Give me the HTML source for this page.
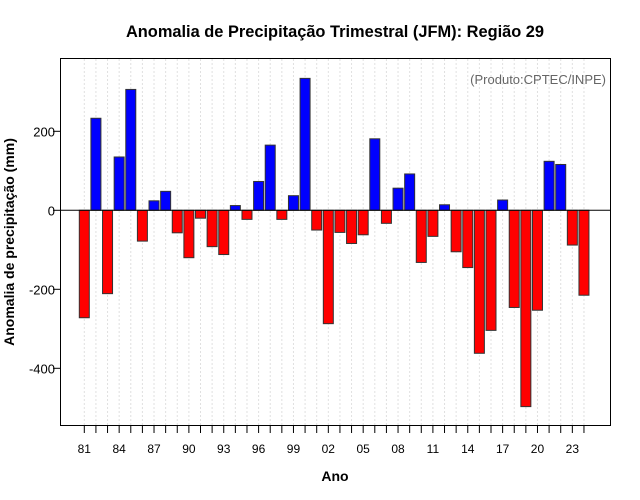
<!DOCTYPE html>
<html><head><meta charset="utf-8"><style>
body{margin:0;background:#fff;}
svg{display:block;font-family:"Liberation Sans",sans-serif;}
</style></head><body>
<svg id="chart" width="640" height="500" viewBox="0 0 640 500">
<rect x="0" y="0" width="640" height="500" fill="#fff"/>
<text x="335" y="37" text-anchor="middle" font-size="16.4" font-weight="bold">Anomalia de Precipitação Trimestral (JFM): Região 29</text>
<g id="grid"></g>
<g id="bars"></g>
<line id="zero" x1="60" x2="610" stroke="#000" stroke-width="1"/>
<rect x="60.5" y="58.5" width="550" height="367" fill="none" stroke="#000"/>
<g id="xaxis"></g>
<g id="yaxis"></g>
<text x="606" y="84" text-anchor="end" font-size="13" fill="#666">(Produto:CPTEC/INPE)</text>
<text x="335" y="481" text-anchor="middle" font-size="14" font-weight="bold">Ano</text>
<text transform="translate(14,242) rotate(-90)" text-anchor="middle" font-size="14" font-weight="bold">Anomalia de precipitação (mm)</text>
</svg>
<script>
const years = [1981,1982,1983,1984,1985,1986,1987,1988,1989,1990,1991,1992,1993,1994,1995,1996,1997,1998,1999,2000,2001,2002,2003,2004,2005,2006,2007,2008,2009,2010,2011,2012,2013,2014,2015,2016,2017,2018,2019,2020,2021,2022,2023,2024];
const anomalies = [-272,233,-211,135,306,-78,24,48,-57,-120,-20,-92,-112,12,-23,73,165,-23,37,334,-50,-287,-56,-84,-62,181,-33,56,92,-132,-66,14,-105,-145,-362,-304,26,-246,-497,-253,124,116,-88,-215];
const yTicks = [-400,-200,0,200];
const NS="http://www.w3.org/2000/svg";
const xs = yr => 84.3 + (yr-1981)*11.62;
const ys = v => 210.3 - v*0.395;
const grid=document.getElementById('grid'), bars=document.getElementById('bars'), xa=document.getElementById('xaxis'), ya=document.getElementById('yaxis');
function mk(tag,attrs,parent){const e=document.createElementNS(NS,tag);for(const k in attrs)e.setAttribute(k,attrs[k]);parent.appendChild(e);return e;}
const z=document.getElementById('zero');z.setAttribute('y1',ys(0));z.setAttribute('y2',ys(0));
years.forEach((yr,i)=>{
  const x=xs(yr);
  const g=mk('line',{x1:x,x2:x,y1:59,y2:425,stroke:'#e0e0e0','stroke-dasharray':'2,2'},grid);
  
  
  const v=anomalies[i];
  const y0=ys(0), y1=ys(v);
  const r=mk('rect',{x:x-5,y:Math.min(y0,y1),width:10,height:Math.abs(y1-y0),fill:v>=0?'#0000ff':'#ff0000',stroke:'#333','stroke-width':1},bars);
  
  
  const t=mk('line',{x1:x,x2:x,y1:426,y2:433,stroke:'#000'},xa);
  
  
  if((yr-1981)%3===0){
    const l=mk('text',{x:x,y:453,'text-anchor':'middle','font-size':12},xa);
    l.textContent=String(yr).slice(2);
    
    
  }
});
yTicks.forEach(v=>{
  const y=ys(v);
  const t=mk('line',{x1:53,x2:60,y1:y,y2:y,stroke:'#000'},ya);
  
  
  const l=mk('text',{x:55,y:y+5,'text-anchor':'end','font-size':13},ya);
  l.textContent=v;
  
  
});
</script>
</body></html>
